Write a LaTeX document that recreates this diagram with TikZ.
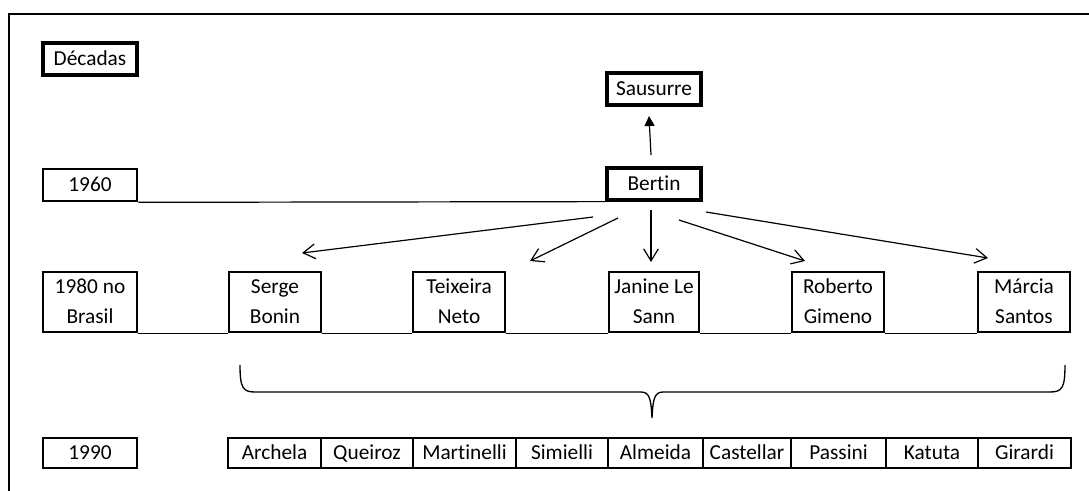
\documentclass[tikz,border=0pt]{standalone}
\usepackage{fontspec}
\setmainfont{Carlito}[Ligatures=NoCommon]
\usetikzlibrary{arrows.meta}
\begin{document}
\begin{tikzpicture}[x=0.75pt,y=-0.75pt,
  txt/.style={font=\fontsize{16}{22.5}\selectfont},
  bx/.style={txt,draw,fill=white,inner sep=0pt,align=center,line width=2pt,
    minimum width=#1*0.75pt},
  bxthick/.style={bx=#1,line width=2.4pt},
  cell/.style={bx=#1,minimum height=22.5pt},
  conn/.style={line width=0.9pt},
  arr/.style={line width=0.9pt,-{Straight Barb[length=9pt,width=11pt]}},
  uparr/.style={line width=0.9pt,-{Triangle[length=7.5pt,width=7.5pt]}},
  frame/.style={line width=2.2pt}]
\useasboundingbox (0,0) rectangle (1089,490);
% frame
\coordinate (fbl) at (9,491);
\coordinate (ftl) at (9,14);
\coordinate (ftr) at (1090,14);
\draw[frame] (fbl) -- (ftl) -- (ftr);
% decade labels
\node[bxthick=94,minimum height=24pt] (dec) at (90,59) {\strut Décadas};
\node[bx=94,minimum height=24pt] (d60) at (90,185) {\strut 1960};
\node[bx=94,minimum height=43.5pt] (d80) at (90,302) {\strut 1980 no\\\strut Brasil};
\node[bx=94,minimum height=22.5pt] (d90) at (90,453) {\strut 1990};
% top
\node[bxthick=94,minimum height=24pt] (saus) at (654,89) {\strut Sausurre};
\node[bxthick=94,minimum height=24pt] (bert) at (654,184) {\strut Bertin};
% 1980 row
\node[bx=92,minimum height=43.5pt] (serge) at (275,302) {\strut Serge\\\strut Bonin};
\node[bx=92,minimum height=43.5pt] (teix) at (459,302) {\strut Teixeira\\\strut Neto};
\node[bx=90,minimum height=43.5pt] (jan) at (654,302) {\strut Janine Le\\\strut Sann};
\node[bx=92,minimum height=43.5pt] (rob) at (838,302) {\strut Roberto\\\strut Gimeno};
\node[bx=92,minimum height=43.5pt] (mar) at (1024,302) {\strut Márcia\\\strut Santos};
% 1990 row
\node[cell=93] (c1) at (274.5,453) {\strut Archela};
\node[cell=92] (c2) at (367,453) {\strut Queiroz};
\node[cell=103] (c3) at (464.5,453) {\strut Martinelli};
\node[cell=92] (c4) at (562,453) {\strut Simielli};
\node[cell=95] (c5) at (655.5,453) {\strut Almeida};
\node[cell=88] (c6) at (747,453) {\strut Castellar};
\node[cell=95] (c7) at (838.5,453) {\strut Passini};
\node[cell=92] (c8) at (932,453) {\strut Katuta};
\node[cell=93] (c9) at (1024.5,453) {\strut Girardi};
% timeline lines
\draw[conn] (d60.south east) -- (bert.south west);
\draw[conn] (d80.south east) -- (serge.south west);
\draw[conn] (serge.south east) -- (teix.south west);
\draw[conn] (teix.south east) -- (jan.south west);
\draw[conn] (jan.south east) -- (rob.south west);
\draw[conn] (rob.south east) -- (mar.south west);
% Bertin -> Sausurre
\coordinate (su0) at (651,155);
\coordinate (su1) at (649,116);
\draw[uparr] (su0) -- (su1);
% Bertin -> 1980 authors
\coordinate (b1) at (593,217);
\coordinate (b2) at (618,218);
\coordinate (b3) at (651,210);
\coordinate (b4) at (679,220);
\coordinate (b5) at (706,212);
\coordinate (t1) at (302,253);
\coordinate (t2) at (530,261);
\coordinate (t3) at (651,262);
\coordinate (t4) at (805,261);
\coordinate (t5) at (988,258);
\draw[arr] (b1) -- (t1);
\draw[arr] (b2) -- (t2);
\draw[arr] (b3) -- (t3);
\draw[arr] (b4) -- (t4);
\draw[arr] (b5) -- (t5);
% brace
\draw[line width=1pt] (240,365) .. controls (240,388) and (243,392) .. (255,392)
  -- (641,392) .. controls (650,392) and (651,400) .. (652,418)
  .. controls (653,400) and (654,392) .. (663,392)
  -- (1050,392) .. controls (1062,392) and (1065,388) .. (1065,365);
\end{tikzpicture}
\end{document}
